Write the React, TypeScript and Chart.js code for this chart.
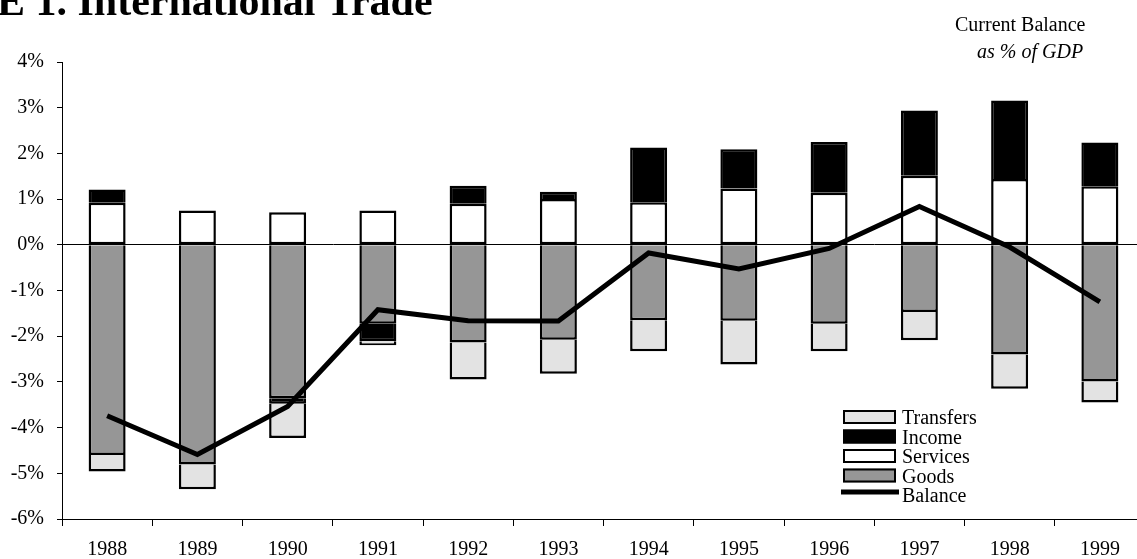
import { useEffect, useRef } from "react";
import { Chart, registerables } from "chart.js";

Chart.register(...registerables);

// Current account components, % of GDP
const years = ["1988", "1989", "1990", "1991", "1992", "1993", "1994", "1995", "1996", "1997", "1998", "1999"];
const goods = [-4.6, -4.81, -3.36, -1.73, -2.14, -2.08, -1.65, -1.66, -1.73, -1.47, -2.4, -2.99];
const services = [0.92, 0.75, 0.71, 0.75, 0.9, 1.0, 0.93, 1.23, 1.14, 1.51, 1.44, 1.28];
const income = [0.29, 0, -0.12, -0.38, 0.39, 0.16, 1.2, 0.86, 1.11, 1.43, 1.72, 0.96];
const transfers = [-0.36, -0.54, -0.75, -0.09, -0.81, -0.74, -0.68, -0.96, -0.6, -0.62, -0.75, -0.46];
const balance = [-3.74, -4.59, -3.54, -1.42, -1.66, -1.67, -0.18, -0.53, -0.08, 0.84, -0.05, -1.25];

const yMin = -6;
const yMax = 4;

const FONT = "'Liberation Serif', 'Times New Roman', serif";
const EDGE = 2.5;

const COLORS = {
  goods: "#969696",
  services: "#ffffff",
  income: "#000000",
  transfers: "#e3e3e3",
};

// Legend rows, top to bottom
const legendItems = [
  { label: "Transfers", fill: COLORS.transfers, kind: "box" },
  { label: "Income", fill: COLORS.income, kind: "box" },
  { label: "Services", fill: COLORS.services, kind: "box" },
  { label: "Goods", fill: COLORS.goods, kind: "box" },
  { label: "Balance", fill: "#000000", kind: "line" },
];

// Each segment draws its outer edge only, so shared boundaries stay one line thick.
const outerEdges = (ctx: any) => {
  const v = ctx.raw as number;
  const first = ctx.datasetIndex === 0 || ctx.datasetIndex === 1; // goods / services sit on the zero line
  if (v >= 0) {
    return { top: EDGE, bottom: first ? EDGE : 0, left: EDGE, right: EDGE };
  }
  return { top: 0, bottom: EDGE, left: EDGE, right: EDGE };
};

const textPlugin = {
  id: "pageText",
  afterDraw(chart: Chart) {
    const ctx = chart.ctx;
    ctx.save();
    ctx.fillStyle = "#000";
    ctx.textBaseline = "alphabetic";
    ctx.textAlign = "left";

    // heading
    ctx.font = `bold 42px ${FONT}`;
    ctx.fillText("E 1. International Trade", -3, 15);

    // note in the upper right
    ctx.font = `20px ${FONT}`;
    ctx.fillText("Current Balance", 955, 31);
    ctx.font = `italic 20px ${FONT}`;
    ctx.fillText("as % of GDP", 977, 58);

    // legend
    const lx = 843;
    const ly = 410;
    const row = 19.5;
    const bw = 53;
    const bh = 14;
    ctx.font = `20px ${FONT}`;
    legendItems.forEach((item, i) => {
      const top = ly + i * row;
      if (item.kind === "box") {
        ctx.fillStyle = item.fill;
        ctx.fillRect(lx, top, bw, bh);
        ctx.strokeStyle = "#000";
        ctx.lineWidth = 2;
        ctx.strokeRect(lx + 1, top + 1, bw - 2, bh - 2);
      } else {
        ctx.strokeStyle = "#000";
        ctx.lineWidth = 5;
        ctx.beginPath();
        ctx.moveTo(lx - 2, top + 4);
        ctx.lineTo(lx + bw + 3, top + 4);
        ctx.stroke();
      }
      ctx.fillStyle = "#000";
      ctx.fillText(item.label, lx + bw + 6, top + bh);
    });
    ctx.restore();
  },
};

export default function App() {
  const canvasRef = useRef<HTMLCanvasElement | null>(null);

  useEffect(() => {
    const canvas = canvasRef.current;
    if (!canvas) return;

    const barBase = {
      type: "bar" as const,
      stack: "trade",
      borderColor: "#000",
      borderWidth: outerEdges,
      borderSkipped: false as const,
      inflateAmount: 0,
      barPercentage: 0.41,
      categoryPercentage: 1,
      order: 1,
    };

    const chart = new Chart(canvas, {
      type: "bar",
      data: {
        labels: years,
        datasets: [
          { ...barBase, label: "Goods", data: goods, backgroundColor: COLORS.goods },
          { ...barBase, label: "Services", data: services, backgroundColor: COLORS.services },
          { ...barBase, label: "Income", data: income, backgroundColor: COLORS.income },
          { ...barBase, label: "Transfers", data: transfers, backgroundColor: COLORS.transfers },
          {
            type: "line",
            label: "Balance",
            data: balance,
            stack: "balance",
            borderColor: "#000",
            borderWidth: 5,
            pointRadius: 0,
            tension: 0,
            fill: false,
            order: 0,
          } as any,
        ],
      },
      options: {
        responsive: false,
        animation: false,
        devicePixelRatio: 1,
        layout: { padding: { top: 62, right: 3, left: 0, bottom: 0 } },
        plugins: {
          legend: { display: false },
          tooltip: { enabled: false },
          title: { display: false },
        },
        scales: {
          x: {
            stacked: true,
            offset: true,
            grid: {
              offset: true,
              drawOnChartArea: false,
              tickLength: 7,
              tickColor: "#000",
              color: "#000",
            },
            border: { color: "#000", width: 1 },
            ticks: {
              color: "#000",
              font: { family: FONT, size: 20 },
              padding: 12,
              maxRotation: 0,
              autoSkip: false,
            },
            afterFit: (scale: any) => {
              scale.height = 40;
            },
          },
          y: {
            stacked: true,
            min: yMin,
            max: yMax,
            ticks: {
              stepSize: 1,
              color: "#000",
              font: { family: FONT, size: 20 },
              padding: 13,
              callback: (v: any) => `${v}%`,
            },
            grid: {
              color: (c: any) => (c.tick && c.tick.value === 0 ? "#000" : "rgba(0,0,0,0)"),
              tickColor: "#000",
              tickLength: 5,
              lineWidth: 1,
            },
            border: { color: "#000", width: 1 },
            afterFit: (scale: any) => {
              scale.width = 62;
            },
          },
        },
      },
      plugins: [textPlugin],
    });

    return () => chart.destroy();
  }, []);

  return (
    <div
      style={{
        position: "fixed",
        left: 0,
        top: 0,
        width: 1137,
        height: 559,
        overflow: "hidden",
        background: "#fff",
      }}
    >
      <canvas
        ref={canvasRef}
        width={1148}
        height={559}
        style={{ position: "absolute", left: 0, top: 0, width: 1148, height: 559 }}
      />
    </div>
  );
}
